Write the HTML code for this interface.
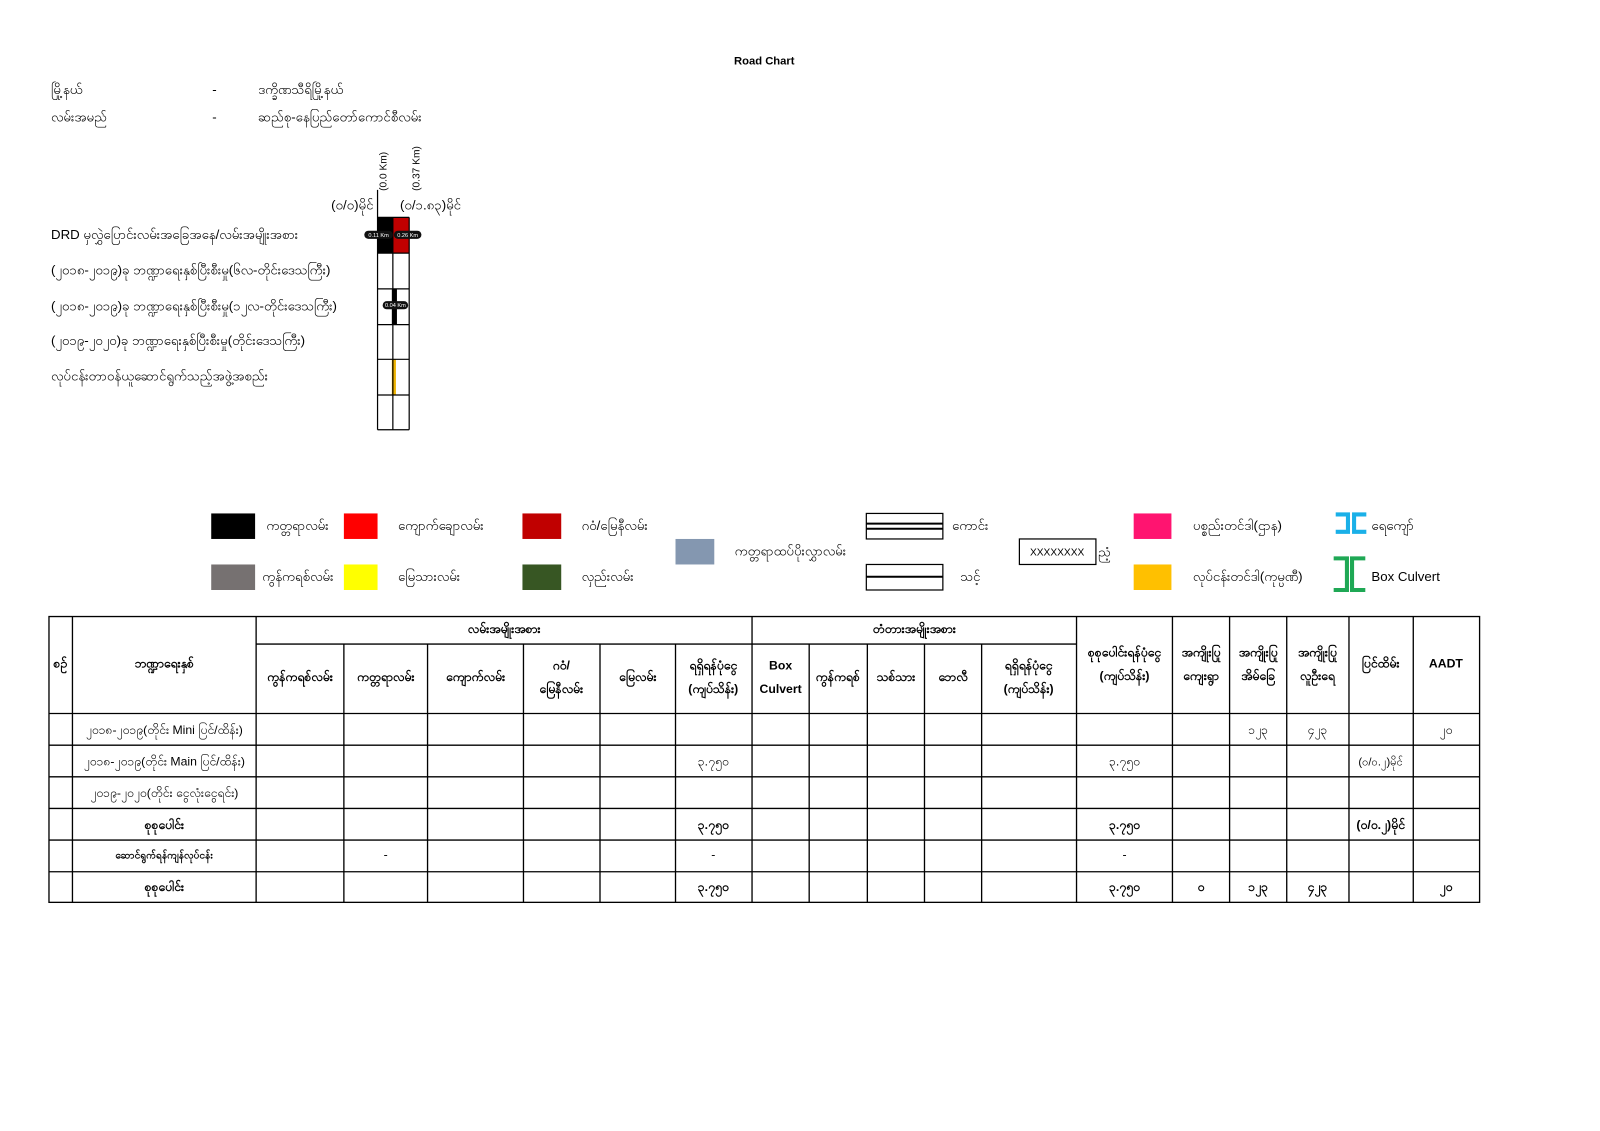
<!DOCTYPE html>
<html><head><meta charset="utf-8">
<style>
html,body{margin:0;padding:0;background:#fff;}
svg{display:block;}
text{font-family:"Liberation Sans","Noto Sans CJK SC",sans-serif;fill:#000;}
</style></head>
<body>
<svg width="1600" height="1131" viewBox="0 0 1568 1108" preserveAspectRatio="none" xmlns="http://www.w3.org/2000/svg">
<rect x="0" y="0" width="1568" height="1108" fill="#fff"/>
<text x="749" y="63" font-size="11" font-weight="bold" text-anchor="middle">Road Chart</text>
<g font-size="13">
<text x="50" y="92">မြို့နယ်</text>
<text x="208" y="92">-</text>
<text x="253" y="92">ဒက္ခိဏသီရိမြို့နယ်</text>
<text x="50" y="119">လမ်းအမည်</text>
<text x="208" y="119">-</text>
<text x="253" y="119">ဆည်စု-နေပြည်တော်ကောင်စီလမ်း</text>
</g>
<!-- chart -->
<text transform="translate(379,187) rotate(-90)" font-size="10">(0.0 Km)</text>
<text transform="translate(411,187) rotate(-90)" font-size="10">(0.37 Km)</text>
<text x="366" y="205" font-size="13" text-anchor="end">(၀/၀)မိုင်</text>
<text x="392" y="205" font-size="13">(၀/၁.၈၃)မိုင်</text>
<g font-size="13">
<text x="50" y="234">DRD မှလွှဲပြောင်းလမ်းအခြေအနေ/လမ်းအမျိုးအစား</text>
<text x="50" y="269">(၂၀၁၈-၂၀၁၉)ခု ဘဏ္ဍာရေးနှစ်ပြီးစီးမှု(၆လ-တိုင်းဒေသကြီး)</text>
<text x="50" y="304">(၂၀၁၈-၂၀၁၉)ခု ဘဏ္ဍာရေးနှစ်ပြီးစီးမှု(၁၂လ-တိုင်းဒေသကြီး)</text>
<text x="50" y="338">(၂၀၁၉-၂၀၂၀)ခု ဘဏ္ဍာရေးနှစ်ပြီးစီးမှု(တိုင်းဒေသကြီး)</text>
<text x="50" y="373">လုပ်ငန်းတာဝန်ယူဆောင်ရွက်သည့်အဖွဲ့အစည်း</text>
</g>
<rect x="370" y="213" width="15" height="35" fill="#000"/>
<rect x="385" y="213" width="16" height="35" fill="#c00000"/>
<rect x="384" y="283" width="5" height="35" fill="#000"/>
<rect x="384" y="352" width="4" height="35" fill="#f0b400"/>
<g stroke="#000" stroke-width="1.2" fill="none">
<line x1="370" y1="186" x2="370" y2="421"/>
<line x1="385" y1="213" x2="385" y2="421"/>
<line x1="401" y1="213" x2="401" y2="421"/>
<line x1="370" y1="213" x2="401" y2="213"/>
<line x1="370" y1="248" x2="401" y2="248"/>
<line x1="370" y1="283" x2="401" y2="283"/>
<line x1="370" y1="318" x2="401" y2="318"/>
<line x1="370" y1="352" x2="401" y2="352"/>
<line x1="370" y1="387" x2="401" y2="387"/>
<line x1="370" y1="421" x2="401" y2="421"/>
</g>
<rect x="357" y="226" width="28" height="8" rx="4" fill="#111"/>
<text x="371" y="232" font-size="5.5" text-anchor="middle" style="fill:#fff">0.11 Km</text>
<rect x="386" y="226" width="27" height="8" rx="4" fill="#111"/>
<text x="399.5" y="232" font-size="5.5" text-anchor="middle" style="fill:#fff">0.26 Km</text>
<rect x="375" y="295" width="25" height="8" rx="4" fill="#111"/>
<text x="387.5" y="301" font-size="5.5" text-anchor="middle" style="fill:#fff">0.04 Km</text>
<!-- legend -->
<rect x="207" y="503" width="43" height="25" fill="#000"/>
<rect x="207" y="553" width="43" height="25" fill="#767171"/>
<rect x="337" y="503" width="33" height="25" fill="#ff0000"/>
<rect x="337" y="553" width="33" height="25" fill="#ffff00"/>
<rect x="512" y="503" width="38" height="25" fill="#c00000"/>
<rect x="512" y="553" width="38" height="25" fill="#375623"/>
<rect x="662" y="528" width="38" height="25" fill="#8497b0"/>
<rect x="1111" y="503" width="37" height="25" fill="#ff1470"/>
<rect x="1111" y="553" width="37" height="25" fill="#ffc000"/>
<g font-size="13">
<text x="261" y="519">ကတ္တရာလမ်း</text>
<text x="257" y="569">ကွန်ကရစ်လမ်း</text>
<text x="390" y="519">ကျောက်ချောလမ်း</text>
<text x="390" y="569">မြေသားလမ်း</text>
<text x="570" y="519">ဂဝံ/မြေနီလမ်း</text>
<text x="570" y="569">လှည်းလမ်း</text>
<text x="720" y="544">ကတ္တရာထပ်ပိုးလွှာလမ်း</text>
<text x="933" y="519">ကောင်း</text>
<text x="941" y="569">သင့်</text>
<text x="1076" y="545">ညံ့</text>
<text x="1169" y="519">ပစ္စည်းတင်ဒါ(ဌာန)</text>
<text x="1169" y="569">လုပ်ငန်းတင်ဒါ(ကုမ္ပဏီ)</text>
<text x="1344" y="519">ရေကျော်</text>
<text x="1344" y="569">Box Culvert</text>
</g>
<g stroke="#000" stroke-width="1.2" fill="none">
<rect x="849" y="503" width="75" height="25"/>
<line x1="849" y1="513" x2="924" y2="513" stroke-width="2"/>
<line x1="849" y1="518" x2="924" y2="518" stroke-width="2"/>
<rect x="849" y="553" width="75" height="25"/>
<line x1="849" y1="565" x2="924" y2="565" stroke-width="2"/>
<rect x="999" y="528" width="75" height="25"/>
</g>
<text x="1036" y="544" font-size="10" text-anchor="middle">XXXXXXXX</text>
<g fill="none" stroke="#1ab0e8" stroke-width="4">
<polyline points="1309,504 1321,504 1321,521 1309,521"/>
<polyline points="1339,504 1327,504 1327,521 1339,521"/>
</g>
<g fill="none" stroke="#1fa855" stroke-width="4">
<polyline points="1307,547 1320,547 1320,578 1307,578"/>
<polyline points="1338,547 1325,547 1325,578 1338,578"/>
</g>
<!-- table -->
<g stroke="#000" stroke-width="1.3" fill="none">
<rect x="48" y="604" width="1402" height="280"/>
<line x1="71" y1="604" x2="71" y2="884"/>
<line x1="251" y1="604" x2="251" y2="884"/>
<line x1="737" y1="604" x2="737" y2="884"/>
<line x1="1055" y1="604" x2="1055" y2="884"/>
<line x1="1149" y1="604" x2="1149" y2="884"/>
<line x1="1205" y1="604" x2="1205" y2="884"/>
<line x1="1261" y1="604" x2="1261" y2="884"/>
<line x1="1322" y1="604" x2="1322" y2="884"/>
<line x1="1385" y1="604" x2="1385" y2="884"/>
<line x1="251" y1="631" x2="1055" y2="631"/>
<line x1="337" y1="631" x2="337" y2="884"/>
<line x1="419" y1="631" x2="419" y2="884"/>
<line x1="513" y1="631" x2="513" y2="884"/>
<line x1="588" y1="631" x2="588" y2="884"/>
<line x1="662" y1="631" x2="662" y2="884"/>
<line x1="793" y1="631" x2="793" y2="884"/>
<line x1="850" y1="631" x2="850" y2="884"/>
<line x1="906" y1="631" x2="906" y2="884"/>
<line x1="962" y1="631" x2="962" y2="884"/>
<line x1="48" y1="699" x2="1450" y2="699"/>
<line x1="48" y1="730" x2="1450" y2="730"/>
<line x1="48" y1="761" x2="1450" y2="761"/>
<line x1="48" y1="792" x2="1450" y2="792"/>
<line x1="48" y1="823" x2="1450" y2="823"/>
<line x1="48" y1="854" x2="1450" y2="854"/>
</g>
<g font-size="12" font-weight="bold" text-anchor="middle">
<text x="59" y="654">စဉ်</text>
<text x="161" y="654">ဘဏ္ဍာရေးနှစ်</text>
<text x="494" y="620">လမ်းအမျိုးအစား</text>
<text x="896" y="620">တံတားအမျိုးအစား</text>
<text x="294" y="667">ကွန်ကရစ်လမ်း</text>
<text x="378" y="667">ကတ္တရာလမ်း</text>
<text x="466" y="667">ကျောက်လမ်း</text>
<text x="550" y="656">ဂဝံ/</text>
<text x="550" y="679">မြေနီလမ်း</text>
<text x="625" y="667">မြေလမ်း</text>
<text x="699" y="656">ရရှိရန်ပုံငွေ</text>
<text x="699" y="679">(ကျပ်သိန်း)</text>
<text x="765" y="656">Box</text>
<text x="765" y="679">Culvert</text>
<text x="821" y="667">ကွန်ကရစ်</text>
<text x="878" y="667">သစ်သား</text>
<text x="934" y="667">ဘေလီ</text>
<text x="1008" y="656">ရရှိရန်ပုံငွေ</text>
<text x="1008" y="679">(ကျပ်သိန်း)</text>
<text x="1102" y="643">စုစုပေါင်းရန်ပုံငွေ</text>
<text x="1102" y="666">(ကျပ်သိန်း)</text>
<text x="1177" y="643">အကျိုးပြု</text>
<text x="1177" y="666">ကျေးရွာ</text>
<text x="1233" y="643">အကျိုးပြု</text>
<text x="1233" y="666">အိမ်ခြေ</text>
<text x="1291" y="643">အကျိုးပြု</text>
<text x="1291" y="666">လူဦးရေ</text>
<text x="1353" y="654">ပြင်ထိမ်း</text>
<text x="1417" y="654">AADT</text>
</g>
<g font-size="12" text-anchor="middle">
<text x="161" y="719">၂၀၁၈-၂၀၁၉(တိုင်း Mini ပြင်/ထိန်း)</text>
<text x="161" y="750">၂၀၁၈-၂၀၁၉(တိုင်း Main ပြင်/ထိန်း)</text>
<text x="161" y="781">၂၀၁၉-၂၀၂၀(တိုင်း ငွေလုံးငွေရင်း)</text>
<text x="1233" y="719">၁၂၃</text>
<text x="1291" y="719">၄၂၃</text>
<text x="1417" y="719">၂၀</text>
<text x="699" y="750">၃.၇၅၀</text>
<text x="1102" y="750">၃.၇၅၀</text>
<text x="1353" y="750" font-size="11">(၀/၀.၂)မိုင်</text>
<text x="378" y="841">-</text>
<text x="699" y="841">-</text>
<text x="1102" y="841">-</text>
</g>
<g font-size="12" font-weight="bold" text-anchor="middle">
<text x="161" y="812">စုစုပေါင်း</text>
<text x="699" y="812">၃.၇၅၀</text>
<text x="1102" y="812">၃.၇၅၀</text>
<text x="1353" y="812">(၀/၀.၂)မိုင်</text>
<text x="161" y="841" font-size="10">ဆောင်ရွက်ရန်ကျန်လုပ်ငန်း</text>
<text x="161" y="873">စုစုပေါင်း</text>
<text x="699" y="873">၃.၇၅၀</text>
<text x="1102" y="873">၃.၇၅၀</text>
<text x="1177" y="873">၀</text>
<text x="1233" y="873">၁၂၃</text>
<text x="1291" y="873">၄၂၃</text>
<text x="1417" y="873">၂၀</text>
</g>
</svg>
</body></html>
